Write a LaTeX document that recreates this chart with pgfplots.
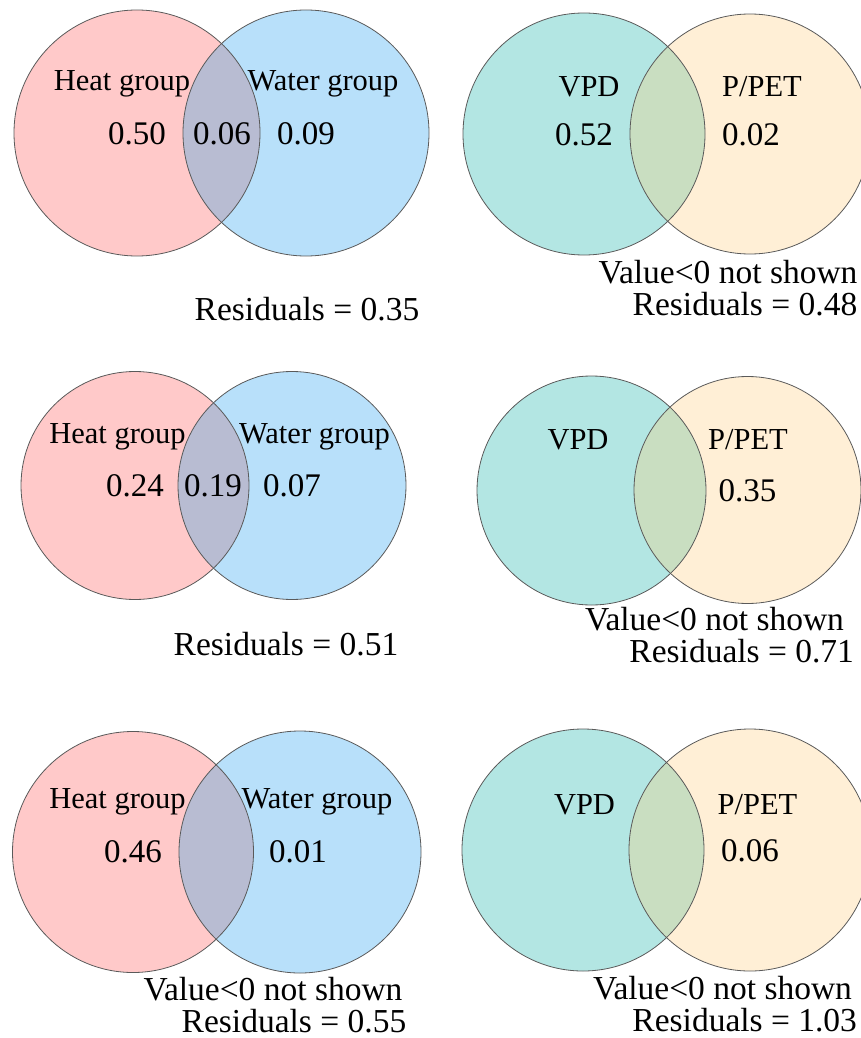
\documentclass[border=0pt]{standalone}
\usepackage{pgfplots}
\pgfplotsset{compat=1.18}
\usepackage{fontspec}
\setmainfont{Liberation Serif}
\definecolor{cpink}{RGB}{255,201,201}
\definecolor{cblue}{RGB}{184,224,250}
\definecolor{cpb}{RGB}{184,188,210}
\definecolor{cteal}{RGB}{179,230,227}
\definecolor{ccream}{RGB}{255,239,214}
\definecolor{ctc}{RGB}{201,222,193}
\definecolor{cline}{RGB}{90,90,90}
\newcommand{\venn}[8]{%
  \fill[#7] (axis cs:#1,#2) circle[radius=#3];
  \fill[#8] (axis cs:#4,#5) circle[radius=#6];
}
\newcommand{\lens}[7]{%
  \begin{scope}
    \clip (axis cs:#1,#2) circle[radius=#3];
    \fill[#7] (axis cs:#4,#5) circle[radius=#6];
  \end{scope}
  \draw[cline,line width=0.8pt] (axis cs:#1,#2) circle[radius=#3];
  \draw[cline,line width=0.8pt] (axis cs:#4,#5) circle[radius=#6];
}
\newcommand{\lab}{\fontsize{30.5}{34}\selectfont}
\newcommand{\num}{\fontsize{33}{36}\selectfont}
\newcommand{\res}{\fontsize{33.5}{36}\selectfont}
\newcommand{\T}[3]{\node[anchor=base,inner sep=0pt] at (axis cs:#1,#2) {#3};}
\begin{document}
\begin{tikzpicture}
\begin{axis}[
  width=861pt, height=1038pt, scale only axis,
  xmin=0, xmax=861, ymin=0, ymax=1038, y dir=reverse,
  hide axis, clip=true
]
\addplot[draw=none] coordinates {(0,0) (861,1038)};
% Panel 1
\venn{137}{133}{123}{306}{133}{123}{cpink}{cblue}
\lens{137}{133}{123}{306}{133}{123}{cpb}
\T{122}{91}{\lab Heat group}
\T{323}{91}{\lab Water group}
\T{137}{144}{\num 0.50}
\T{222}{144}{\num 0.06}
\T{306}{144}{\num 0.09}
\T{307}{320}{\res Residuals = 0.35}
% Panel 2
\venn{584}{134}{121}{750}{134}{120}{cteal}{ccream}
\lens{584}{134}{121}{750}{134}{120}{ctc}
\T{589}{97}{\lab VPD}
\T{762}{97}{\lab P/PET}
\T{584}{145}{\num 0.52}
\T{751}{145}{\num 0.02}
\T{728}{283}{\res Value<0 not shown}
\T{745}{315}{\res Residuals = 0.48}
% Panel 3
\venn{135}{485.5}{114}{292}{485.5}{114}{cpink}{cblue}
\lens{135}{485.5}{114}{292}{485.5}{114}{cpb}
\T{117.5}{443}{\lab Heat group}
\T{314.5}{443}{\lab Water group}
\T{135}{496}{\num 0.24}
\T{213}{496}{\num 0.19}
\T{292}{496}{\num 0.07}
\T{286}{655}{\res Residuals = 0.51}
% Panel 4
\venn{591.5}{490.5}{114.5}{747.5}{490}{113.5}{cteal}{ccream}
\lens{591.5}{490.5}{114.5}{747.5}{490}{113.5}{ctc}
\T{578}{449}{\lab VPD}
\T{748}{449}{\lab P/PET}
\T{747.5}{501}{\num 0.35}
\T{714.5}{630}{\res Value<0 not shown}
\T{741.7}{662}{\res Residuals = 0.71}
% Panel 5
\venn{133}{852}{120.5}{300}{852}{121}{cpink}{cblue}
\lens{133}{852}{120.5}{300}{852}{121}{cpb}
\T{117.5}{808}{\lab Heat group}
\T{317}{808}{\lab Water group}
\T{133}{862}{\num 0.46}
\T{298}{862}{\num 0.01}
\T{273}{1000}{\res Value<0 not shown}
\T{294}{1032}{\res Residuals = 0.55}
% Panel 6
\venn{583}{850}{121}{750}{850}{121}{cteal}{ccream}
\lens{583}{850}{121}{750}{850}{121}{ctc}
\T{584.5}{814}{\lab VPD}
\T{757.5}{814}{\lab P/PET}
\T{750}{861}{\num 0.06}
\T{722.5}{999}{\res Value<0 not shown}
\T{744.7}{1031}{\res Residuals = 1.03}
\end{axis}
\end{tikzpicture}
\end{document}
